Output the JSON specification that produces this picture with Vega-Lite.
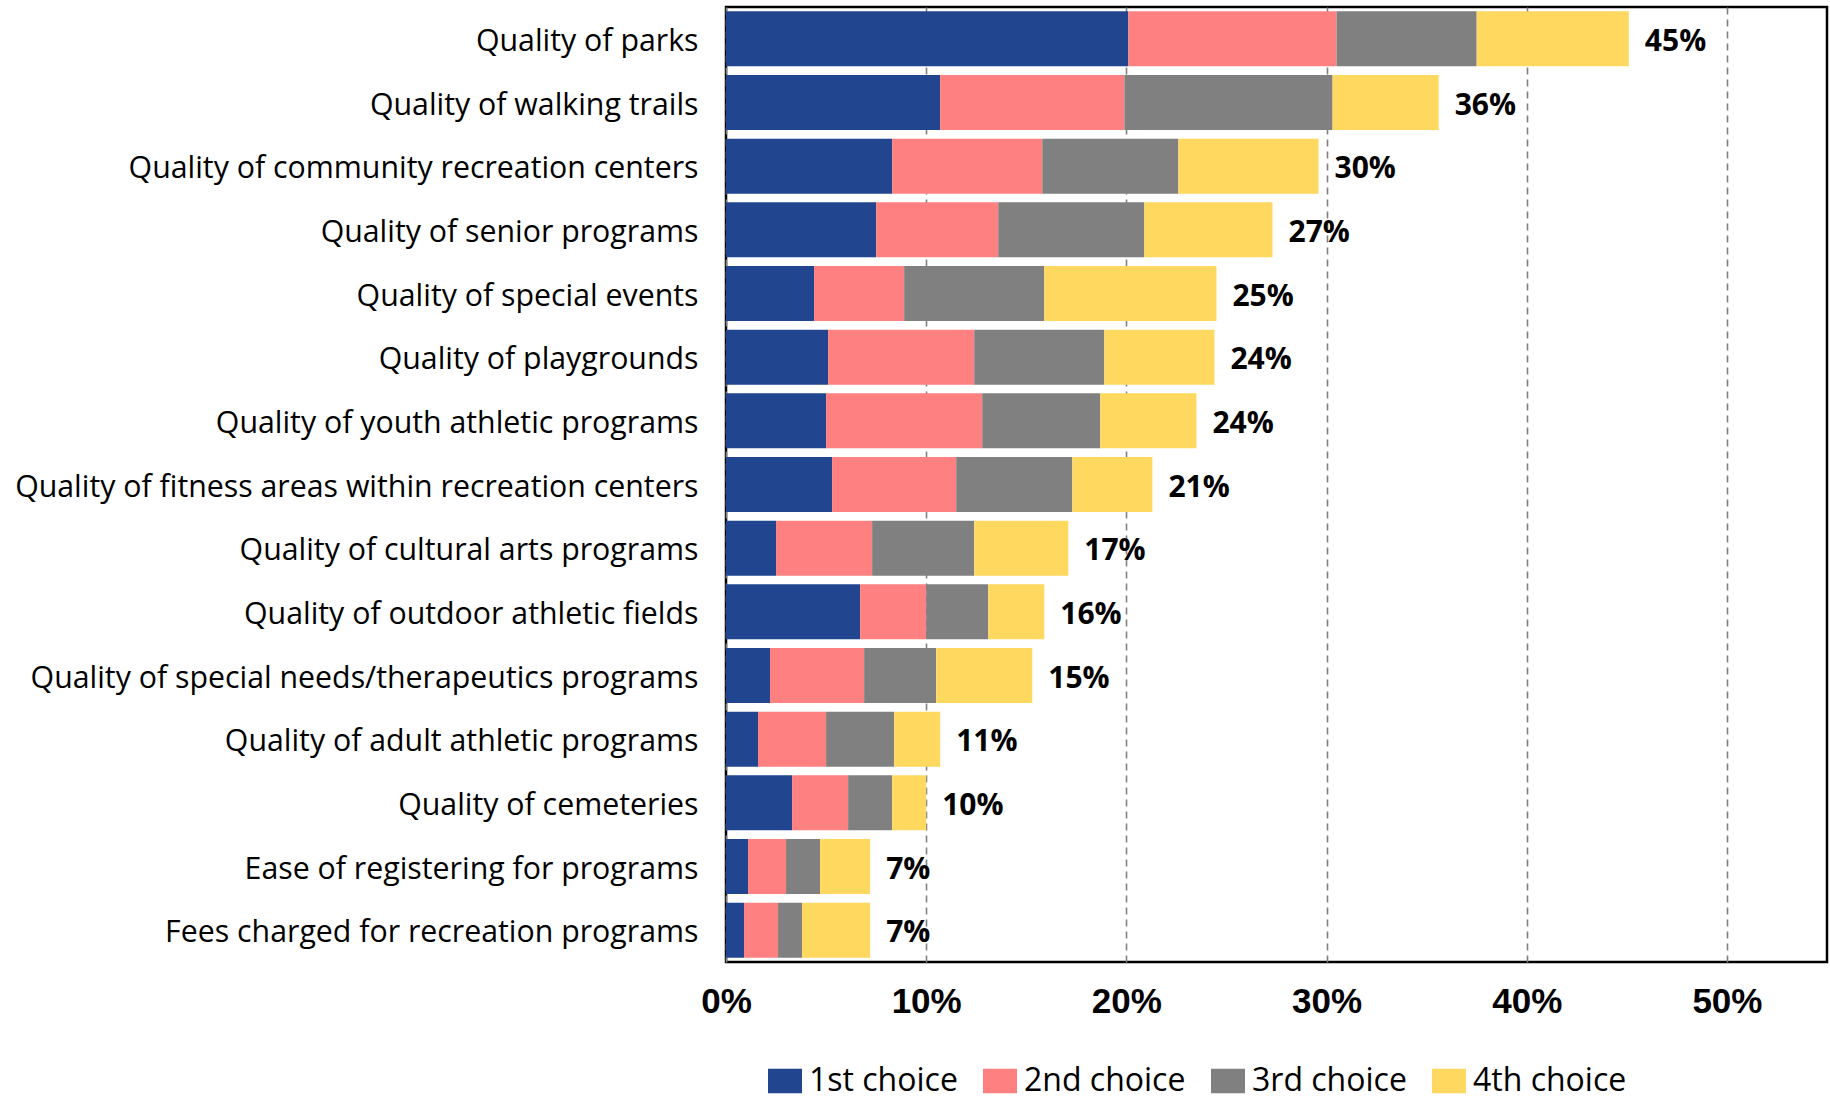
{
  "$schema": "https://vega.github.io/schema/vega-lite/v6.json",
  "width": 1101,
  "height": 955,
  "autosize": {"type": "none"},
  "padding": {"left": 726, "top": 7, "right": 3, "bottom": 139},
  "background": "white",
  "data": {
    "values": [
      {"item": "Quality of parks", "1st choice": 20.1, "2nd choice": 10.4, "3rd choice": 7.0, "4th choice": 7.6, "label": "45%"},
      {"item": "Quality of walking trails", "1st choice": 10.7, "2nd choice": 9.2, "3rd choice": 10.4, "4th choice": 5.3, "label": "36%"},
      {"item": "Quality of community recreation centers", "1st choice": 8.3, "2nd choice": 7.5, "3rd choice": 6.8, "4th choice": 7.0, "label": "30%"},
      {"item": "Quality of senior programs", "1st choice": 7.5, "2nd choice": 6.1, "3rd choice": 7.3, "4th choice": 6.4, "label": "27%"},
      {"item": "Quality of special events", "1st choice": 4.4, "2nd choice": 4.5, "3rd choice": 7.0, "4th choice": 8.6, "label": "25%"},
      {"item": "Quality of playgrounds", "1st choice": 5.1, "2nd choice": 7.3, "3rd choice": 6.5, "4th choice": 5.5, "label": "24%"},
      {"item": "Quality of youth athletic programs", "1st choice": 5.0, "2nd choice": 7.8, "3rd choice": 5.9, "4th choice": 4.8, "label": "24%"},
      {"item": "Quality of fitness areas within recreation centers", "1st choice": 5.3, "2nd choice": 6.2, "3rd choice": 5.8, "4th choice": 4.0, "label": "21%"},
      {"item": "Quality of cultural arts programs", "1st choice": 2.5, "2nd choice": 4.8, "3rd choice": 5.1, "4th choice": 4.7, "label": "17%"},
      {"item": "Quality of outdoor athletic fields", "1st choice": 6.7, "2nd choice": 3.3, "3rd choice": 3.1, "4th choice": 2.8, "label": "16%"},
      {"item": "Quality of special needs/therapeutics programs", "1st choice": 2.2, "2nd choice": 4.7, "3rd choice": 3.6, "4th choice": 4.8, "label": "15%"},
      {"item": "Quality of adult athletic programs", "1st choice": 1.6, "2nd choice": 3.4, "3rd choice": 3.4, "4th choice": 2.3, "label": "11%"},
      {"item": "Quality of cemeteries", "1st choice": 3.3, "2nd choice": 2.8, "3rd choice": 2.2, "4th choice": 1.7, "label": "10%"},
      {"item": "Ease of registering for programs", "1st choice": 1.1, "2nd choice": 1.9, "3rd choice": 1.7, "4th choice": 2.5, "label": "7%"},
      {"item": "Fees charged for recreation programs", "1st choice": 0.9, "2nd choice": 1.7, "3rd choice": 1.2, "4th choice": 3.4, "label": "7%"}
    ]
  },
  "transform": [
    {"fold": ["1st choice", "2nd choice", "3rd choice", "4th choice"], "as": ["choice", "pct"]}
  ],
  "encoding": {
    "y": {
      "field": "item",
      "type": "nominal",
      "sort": null,
      "title": null,
      "scale": {"paddingInner": 0.135, "paddingOuter": 0.0675},
      "axis": {
        "domain": false,
        "ticks": false,
        "tickSize": 0,
        "labelPadding": 28,
        "labelOffset": 3,
        "labelFont": "Open Sans",
        "labelFontSize": 30.3,
        "labelColor": "#000000",
        "labelLimit": 800
      }
    }
  },
  "layer": [
    {
      "mark": {"type": "bar"},
      "encoding": {
        "x": {
          "field": "pct",
          "type": "quantitative",
          "stack": "zero",
          "title": null,
          "scale": {"domain": [0, 55], "nice": false},
          "axis": {
            "values": [0, 10, 20, 30, 40, 50],
            "labelExpr": "datum.value + '%'",
            "labelFlush": false,
            "domain": false,
            "ticks": false,
            "tickSize": 0,
            "labelPadding": 22,
            "labelFont": "Liberation Sans",
            "labelFontWeight": "bold",
            "labelFontSize": 35,
            "labelColor": "#000000",
            "grid": true,
            "gridColor": "#808080",
            "gridWidth": 1.6,
            "gridDash": [7, 5]
          }
        },
        "color": {
          "field": "choice",
          "type": "nominal",
          "title": null,
          "scale": {
            "domain": ["1st choice", "2nd choice", "3rd choice", "4th choice"],
            "range": ["#21468F", "#FF8080", "#808080", "#FFD860"]
          },
          "legend": {
            "orient": "none",
            "direction": "horizontal",
            "legendX": 42,
            "legendY": 1057,
            "symbolType": "M-1,-0.714L1,-0.714L1,0.714L-1,0.714Z",
            "symbolSize": 1156,
            "symbolStrokeWidth": 0,
            "labelFont": "Open Sans",
            "labelFontSize": 32,
            "labelColor": "#000000",
            "labelOffset": 7,
            "columnPadding": 25,
            "labelLimit": 300
          }
        }
      }
    },
    {
      "mark": {
        "type": "text",
        "align": "left",
        "baseline": "middle",
        "dx": 16,
        "dy": 3,
        "font": "Open Sans",
        "fontWeight": "bold",
        "fontSize": 30,
        "color": "#000000"
      },
      "encoding": {
        "x": {"aggregate": "sum", "field": "pct", "type": "quantitative"},
        "text": {"field": "label", "type": "nominal"}
      }
    }
  ],
  "config": {
    "view": {"stroke": "#000000", "strokeWidth": 2.5}
  }
}
